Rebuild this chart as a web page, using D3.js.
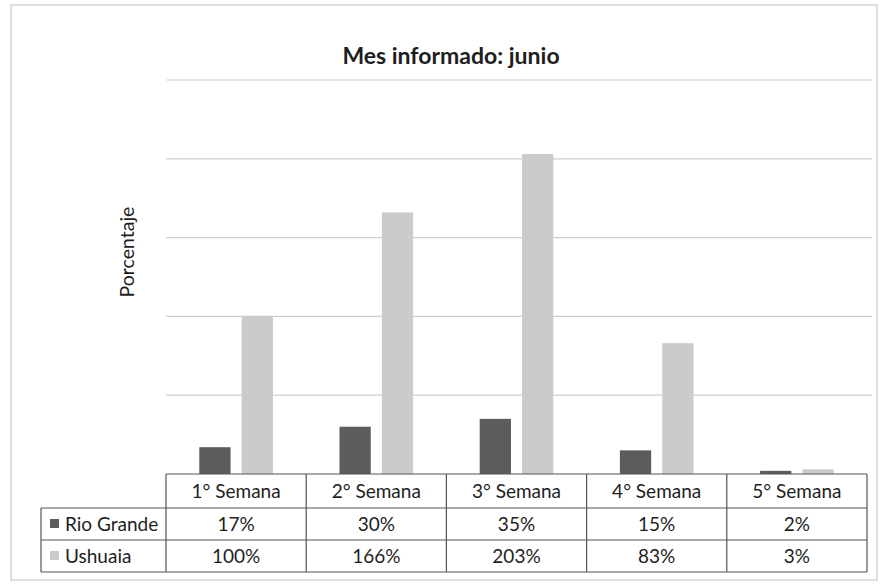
<!DOCTYPE html>
<html>
<head>
<meta charset="utf-8">
<script src="https://cdn.jsdelivr.net/npm/d3@7"></script>
<style>
  body { margin: 0; background: #fff; }
  text { font-family: Lato, "Open Sans", sans-serif; fill: #1e1e1e; }
</style>
</head>
<body>
<div id="chart"></div>
<script>
// data
var weeks = ["1° Semana", "2° Semana", "3° Semana", "4° Semana", "5° Semana"];
var seriesNames = ["Rio Grande", "Ushuaia"];
var rioGrande = [17, 30, 35, 15, 2];
var ushuaia = [100, 166, 203, 83, 3];
var yTicks = [0, 50, 100, 150, 200, 250];
var colors = ["#5c5c5c", "#cbcbcb"];

var width = 883;
var height = 586;

var svg = d3.select('#chart')
    .append('svg')
    .attr('width', width)
    .attr('height', height);

// outer frame
svg.append('rect')
    .attr('x', 11).attr('y', 5)
    .attr('width', 866).attr('height', 575)
    .attr('fill', 'none')
    .attr('stroke', '#d4d4d4')
    .attr('stroke-width', 1.5);

var x0 = d3.scaleBand()
    .domain(weeks)
    .range([166, 867]);

var x1 = d3.scaleBand()
    .domain(seriesNames)
    .range([0, x0.bandwidth()])
    .paddingInner(0.262)
    .paddingOuter(0.786);

var y = d3.scaleLinear()
    .domain([0, 250])
    .range([474, 80]);

// gridlines
svg.append('g')
    .selectAll('line')
    .data(yTicks.slice(1))
    .enter()
    .append('line')
    .attr('x1', 166).attr('x2', 872)
    .attr('y1', d => y(d)).attr('y2', d => y(d))
    .attr('stroke', '#cfcfcf')
    .attr('stroke-width', 1.2);

// bars
var rows = weeks.map(function (w, i) {
    return { week: w, values: [rioGrande[i], ushuaia[i]] };
});

var groups = svg.append('g')
    .selectAll('g')
    .data(rows)
    .enter()
    .append('g')
    .attr('transform', d => 'translate(' + x0(d.week) + ',0)');

groups.selectAll('rect')
    .data(d => d.values.map((v, j) => ({ name: seriesNames[j], v: v, j: j })))
    .enter()
    .append('rect')
    .attr('x', d => x1(d.name))
    .attr('width', x1.bandwidth())
    .attr('y', d => y(d.v))
    .attr('height', d => y(0) - y(d.v))
    .attr('fill', d => colors[d.j]);

// title
svg.append('text')
    .attr('x', 451)
    .attr('y', 64)
    .attr('text-anchor', 'middle')
    .attr('font-size', 23)
    .attr('font-weight', 'bold')
    .text('Mes informado: junio');

// y axis title
svg.append('text')
    .attr('transform', 'translate(127,252) rotate(-90)')
    .attr('text-anchor', 'middle')
    .attr('dy', '0.35em')
    .attr('font-size', 19.5)
    .text('Porcentaje');

// data table
var rowY = [474, 508, 540, 572];
var tableColor = '#555';
var fs = 19;
var table = svg.append('g');

// horizontal lines
table.append('line')
    .attr('x1', 166).attr('x2', 867)
    .attr('y1', rowY[0]).attr('y2', rowY[0])
    .attr('stroke', tableColor).attr('stroke-width', 1.2);
table.selectAll('.hl')
    .data(rowY.slice(1))
    .enter()
    .append('line')
    .attr('x1', 41).attr('x2', 867)
    .attr('y1', d => d).attr('y2', d => d)
    .attr('stroke', tableColor).attr('stroke-width', 1.2);

// vertical lines
var colEdges = weeks.map(w => x0(w)).concat([x0.range()[1]]);
table.selectAll('.vl')
    .data(colEdges)
    .enter()
    .append('line')
    .attr('x1', d => d).attr('x2', d => d)
    .attr('y1', rowY[0]).attr('y2', rowY[3])
    .attr('stroke', tableColor).attr('stroke-width', 1.2);
table.append('line')
    .attr('x1', 41).attr('x2', 41)
    .attr('y1', rowY[1]).attr('y2', rowY[3])
    .attr('stroke', tableColor).attr('stroke-width', 1.2);

// header
table.selectAll('.hd')
    .data(weeks)
    .enter()
    .append('text')
    .attr('x', d => x0(d) + x0.bandwidth() / 2)
    .attr('y', (rowY[0] + rowY[1]) / 2 + 7)
    .attr('text-anchor', 'middle')
    .attr('font-size', fs)
    .text(d => d);

// series rows
var seriesValues = [rioGrande, ushuaia];
seriesNames.forEach(function (name, j) {
    var cy = (rowY[j + 1] + rowY[j + 2]) / 2;
    table.append('rect')
        .attr('x', 50).attr('y', cy - 5)
        .attr('width', 9).attr('height', 9)
        .attr('fill', colors[j]);
    table.append('text')
        .attr('x', 65)
        .attr('y', cy + 6.5)
        .attr('font-size', fs)
        .text(name);
    table.selectAll('.v' + j)
        .data(seriesValues[j])
        .enter()
        .append('text')
        .attr('x', (d, i) => x0(weeks[i]) + x0.bandwidth() / 2)
        .attr('y', cy + 6.5)
        .attr('text-anchor', 'middle')
        .attr('font-size', fs)
        .text(d => d + '%');
});
</script>
</body>
</html>
